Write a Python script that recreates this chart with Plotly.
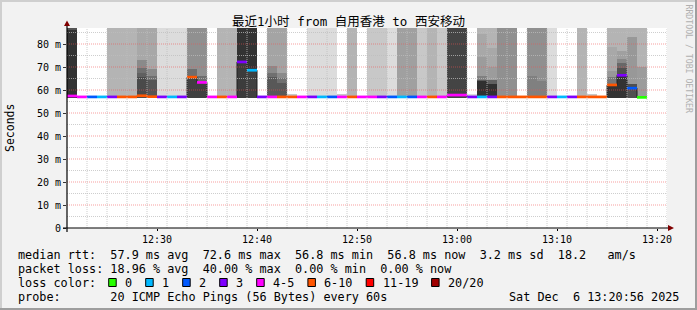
import plotly.graph_objects as go
from datetime import datetime, timedelta

# ---------------- data ----------------
title_text = "最近1小时 from 自用香港 to 西安移动"
t_start = datetime(2025, 12, 6, 12, 21, 0)
t_end = datetime(2025, 12, 6, 13, 21, 0)
step_min = 1
y_max_ms = 86.96

y_tick_vals = [0, 10, 20, 30, 40, 50, 60, 70, 80]
y_tick_text = ["0", "10 m", "20 m", "30 m", "40 m", "50 m", "60 m", "70 m", "80 m"]
x_tick_labels = ["12:30", "12:40", "12:50", "13:00", "13:10", "13:20"]

loss_labels = ["0", "1", "2", "3", "4-5", "6-10", "11-19", "20/20"]
loss_colors = ["#26ff00", "#00b8ff", "#0059ff", "#7e00ff", "#ff00ff", "#ff5500", "#ff0000", "#a00000"]

# median rtt per minute (ms)
median_ms = [57.4, 57.0, 57.0, 57.0, 57.0, 57.0, 57.0, 57.5, 57.1, 57.0,
             57.0, 57.0, 65.6, 63.3, 57.0, 57.0, 57.0, 72.2, 68.6, 57.0,
             57.0, 57.0, 57.0, 57.0, 57.0, 57.0, 57.0, 57.0, 57.0, 57.0,
             57.0, 57.0, 57.0, 57.0, 57.0, 57.0, 57.0, 57.0, 57.8, 57.8,
             57.0, 57.0, 57.0, 57.0, 57.0, 57.0, 57.0, 57.0, 57.0, 57.0,
             57.0, 57.0, 57.0, 57.0, 62.2, 66.4, 60.8, 56.8]
# loss class per minute (index into loss_labels)
loss_class = [4, 4, 2, 1, 3, 5, 5, 5, 5, 3,
              1, 3, 5, 4, 4, 5, 4, 3, 1, 3,
              4, 5, 5, 4, 3, 1, 2, 4, 5, 4,
              4, 3, 2, 1, 2, 4, 5, 4, 4, 4,
              3, 1, 3, 5, 5, 5, 5, 5, 3, 1,
              3, 5, 5, 5, 5, 3, 2, 0]

# smoke: lowest ping and per-minute layer tops (ms) with their grey levels
smoke_base_ms = 56.7
smoke_tops = [
    [87, 86], [], [], [], [87], [87], [87], [87, 73, 69.5, 67.5, 65.5], [87, 69, 66, 64.3], [87],
    [87], [87], [87, 69.1, 65.6], [87, 66.1, 63.3], [], [87], [87], [87, 72.2], [87, 68.6], [],
    [87, 70.6, 67.5, 65.5], [87, 67.4, 65.2, 63], [58.2], [], [87], [87], [87], [58.2], [87], [],
    [87], [87], [87], [87], [87], [87], [87], [87], [87], [87],
    [58.3], [87, 84.3, 74.2, 66.2, 64.5, 63.8], [87, 78.3, 70.1, 64.5, 62.5], [87], [87], [], [87, 66.2], [87, 64], [87], [],
    [], [87], [58.3], [], [87, 78.8, 68.4, 65.8, 62.3], [87, 77.1, 73.3, 71.6, 69.4, 66.4], [87, 83, 62.5], [87, 70],
]
smoke_greys = [
    [0x55, 0x33], [], [], [], [0xb4], [0xb4], [0xb4], [0xa8, 0x8a, 0x70, 0x60, 0x4a], [0xa8, 0x8a, 0x70, 0x55], [0xdc],
    [0xdc], [0xdc], [0x90, 0x6e, 0x40], [0x90, 0x6e, 0x40], [], [0xb4], [0xb4], [0x33, 0x3c], [0x33, 0x40], [],
    [0xa4, 0x8a, 0x70, 0x58], [0xa4, 0x8a, 0x70, 0x58], [0xc8], [], [0xdc], [0xdc], [0xdc], [0xc8], [0xb4], [],
    [0xc8], [0xc8], [0xdc], [0xa0], [0xa0], [0xc8], [0xb4], [0xc8], [0x44], [0x44],
    [0xdc], [0xb4, 0xa8, 0x9c, 0x80, 0x58, 0x30], [0xb4, 0xa8, 0x9c, 0x60, 0x30], [0x90], [0x90], [], [0x90, 0x80], [0x90, 0x80], [0xdc], [],
    [], [0xb4], [0xc8], [], [0xb4, 0xa8, 0x98, 0x78, 0x33], [0xb4, 0xa0, 0x88, 0x68, 0x50, 0x33], [0xb4, 0x98, 0x50], [0xb4, 0x9c],
]

legend_line1 = "median rtt:  57.9 ms avg  72.6 ms max  56.8 ms min  56.8 ms now  3.2 ms sd  18.2   am/s"
legend_line2 = "packet loss: 18.96 % avg  40.00 % max  0.00 % min  0.00 % now"
legend_line3 = "loss color:"
legend_line4 = "probe:       20 ICMP Echo Pings (56 Bytes) every 60s"
timestamp_text = "Sat Dec  6 13:20:56 2025"
side_text = "RRDTOOL / TOBI OETIKER"
y_title = "Seconds"

# ---------------- style ----------------
W, H = 697, 310
PL, PR, PT, PB = 67, 667, 28, 228
MONO = "DejaVu Sans Mono, Noto Sans CJK SC, monospace"
ms_per_px = y_max_ms / (PB - PT)


def px_x(px):
    return (px - PL) / (PR - PL)


def px_y(py):
    return (PB - py) / (PB - PT)


def nb(s):
    return s.replace(" ", "\u00a0")


n = len(median_ms)
col_start = [t_start + timedelta(minutes=step_min * i) for i in range(n)]
col_end = [t + timedelta(minutes=step_min) for t in col_start]
col_mid = [t + timedelta(seconds=30 * step_min) for t in col_start]
bar_w = 60000 * step_min

fig = go.Figure()

# smoke layers
max_layers = max(len(t) for t in smoke_tops)
for k in range(max_layers):
    xs, bases, hs, cols = [], [], [], []
    for i in range(n):
        if len(smoke_tops[i]) > k:
            top = min(smoke_tops[i][k], y_max_ms)
            xs.append(col_mid[i])
            bases.append(smoke_base_ms)
            hs.append(top - smoke_base_ms)
            g = smoke_greys[i][k]
            cols.append(f"rgb({g},{g},{g})")
    fig.add_trace(go.Bar(x=xs, y=hs, base=bases, width=bar_w, marker=dict(color=cols, line=dict(width=0)),
                         hoverinfo="skip", showlegend=False))

# thin median step line
fig.add_trace(go.Scatter(x=col_start + [col_end[-1]],
                         y=median_ms + [median_ms[-1]], mode="lines",
                         line=dict(color="#202020", width=1, shape="hv"),
                         hoverinfo="skip", showlegend=False))

# loss coloured median bands
for c, colr in enumerate(loss_colors):
    xs, ys = [], []
    for i in range(n):
        if loss_class[i] == c:
            xs += [col_start[i], col_end[i], None]
            ys += [median_ms[i], median_ms[i], None]
    if xs:
        fig.add_trace(go.Scatter(x=xs, y=ys, mode="lines", line=dict(color=colr, width=2.7),
                                 connectgaps=False, hoverinfo="skip", showlegend=False))

shapes = []
# grid (drawn above, as rrdtool does)
minor_col = "rgba(190,190,190,0.75)"
major_col = "rgba(240,80,80,0.55)"
for v in range(5, 90, 5):
    if v > y_max_ms:
        break
    major = v % 10 == 0
    shapes.append(dict(type="line", xref="paper", yref="y", x0=0, x1=1, y0=v, y1=v, layer="above",
                       line=dict(color=major_col if major else minor_col, width=1, dash="1px,1px")))
for m in range(2, 61, 2):
    t = t_start + timedelta(minutes=m)
    major = t.minute % 10 == 0
    shapes.append(dict(type="line", xref="x", yref="paper", x0=t, x1=t, y0=0, y1=1, layer="above",
                       line=dict(color=major_col if major else minor_col, width=1, dash="1px,1px")))

# axis lines + arrows
shapes.append(dict(type="line", xref="paper", yref="paper", x0=px_x(63), x1=px_x(669), y0=0, y1=0,
                   line=dict(color="#000000", width=1.2), layer="above"))
shapes.append(dict(type="line", xref="paper", yref="paper", x0=0, x1=0, y0=px_y(232), y1=px_y(25),
                   line=dict(color="#000000", width=1.2), layer="above"))
shapes.append(dict(type="path", xref="paper", yref="paper", layer="above",
                   path=f"M {px_x(668)},{px_y(225)} L {px_x(674)},{px_y(228)} L {px_x(668)},{px_y(231)} Z",
                   fillcolor="#800000", line=dict(width=0)))
shapes.append(dict(type="path", xref="paper", yref="paper", layer="above",
                   path=f"M {px_x(64)},{px_y(26)} L {px_x(67)},{px_y(20.5)} L {px_x(70)},{px_y(26)} Z",
                   fillcolor="#800000", line=dict(width=0)))

# frame shading
shapes.append(dict(type="rect", xref="paper", yref="paper", x0=px_x(0), x1=px_x(2), y0=px_y(H), y1=px_y(0),
                   fillcolor="#cfcfcf", line=dict(width=0), layer="below"))
shapes.append(dict(type="rect", xref="paper", yref="paper", x0=px_x(0), x1=px_x(W), y0=px_y(2), y1=px_y(0),
                   fillcolor="#cfcfcf", line=dict(width=0), layer="below"))
shapes.append(dict(type="rect", xref="paper", yref="paper", x0=px_x(W - 2), x1=px_x(W), y0=px_y(H), y1=px_y(0),
                   fillcolor="#9e9e9e", line=dict(width=0), layer="below"))
shapes.append(dict(type="rect", xref="paper", yref="paper", x0=px_x(0), x1=px_x(W), y0=px_y(H), y1=px_y(H - 2),
                   fillcolor="#9e9e9e", line=dict(width=0), layer="below"))

annotations = []
line_y = [254.5, 268.5, 282.5, 296.5]
for txt, yy in [(legend_line1, line_y[0]), (legend_line2, line_y[1]), (legend_line3, line_y[2]), (legend_line4, line_y[3])]:
    annotations.append(dict(text=nb(txt), xref="paper", yref="paper", x=px_x(16), y=px_y(yy),
                            xanchor="left", yanchor="middle", showarrow=False,
                            font=dict(family=MONO, size=11.8, color="#000000")))
annotations.append(dict(text=nb(timestamp_text), xref="paper", yref="paper", x=px_x(681), y=px_y(line_y[3]),
                        xanchor="right", yanchor="middle", showarrow=False,
                        font=dict(family=MONO, size=11.8, color="#000000")))

# loss colour legend boxes
bx = 108.7
char_w = 7.1
for lab, colr in zip(loss_labels, loss_colors):
    shapes.append(dict(type="rect", xref="paper", yref="paper", x0=px_x(bx), x1=px_x(bx + 7.5),
                       y0=px_y(line_y[2] + 4), y1=px_y(line_y[2] - 4), fillcolor=colr,
                       line=dict(color="#000000", width=1)))
    annotations.append(dict(text=nb(lab), xref="paper", yref="paper", x=px_x(bx + 14.3), y=px_y(line_y[2]),
                            xanchor="left", yanchor="middle", showarrow=False,
                            font=dict(family=MONO, size=11.8, color="#000000")))
    bx = bx + 14.3 + len(lab) * char_w + 15.6

annotations.append(dict(text=y_title, xref="paper", yref="paper", x=px_x(10), y=px_y(128), textangle=-90,
                        xanchor="center", yanchor="middle", showarrow=False,
                        font=dict(family=MONO, size=11.5, color="#000000")))
annotations.append(dict(text=nb(side_text), xref="paper", yref="paper", x=px_x(688.5), y=px_y(59), textangle=90,
                        xanchor="center", yanchor="middle", showarrow=False,
                        font=dict(family=MONO, size=8.2, color="#b0b0b0")))

x_tick_vals = [datetime(2025, 12, 6, int(s[:2]), int(s[3:]), 0) for s in x_tick_labels]

fig.update_layout(
    width=W, height=H,
    margin=dict(l=PL, r=W - PR, t=PT, b=H - PB, pad=0),
    paper_bgcolor="#f2f2f2", plot_bgcolor="#ffffff",
    barmode="overlay", bargap=0, showlegend=False,
    title=dict(text=title_text, x=0.5, xref="container", xanchor="center", y=1 - 21.5 / H, yref="container",
               yanchor="middle", font=dict(family=MONO, size=12.5, color="#000000")),
    xaxis=dict(type="date", range=[t_start, t_end], showgrid=False, zeroline=False, showline=False,
               tickvals=x_tick_vals, ticktext=x_tick_labels, ticks="outside", ticklen=2, tickcolor="#000000",
               tickfont=dict(family=MONO, size=10, color="#000000"), fixedrange=True),
    yaxis=dict(range=[0, y_max_ms], showgrid=False, zeroline=False, showline=False,
               tickvals=y_tick_vals, ticktext=y_tick_text, ticks="outside", ticklen=3, tickcolor="#333333",
               tickfont=dict(family=MONO, size=10, color="#000000"), fixedrange=True),
    shapes=shapes, annotations=annotations,
)

fig.write_html("out.html")
